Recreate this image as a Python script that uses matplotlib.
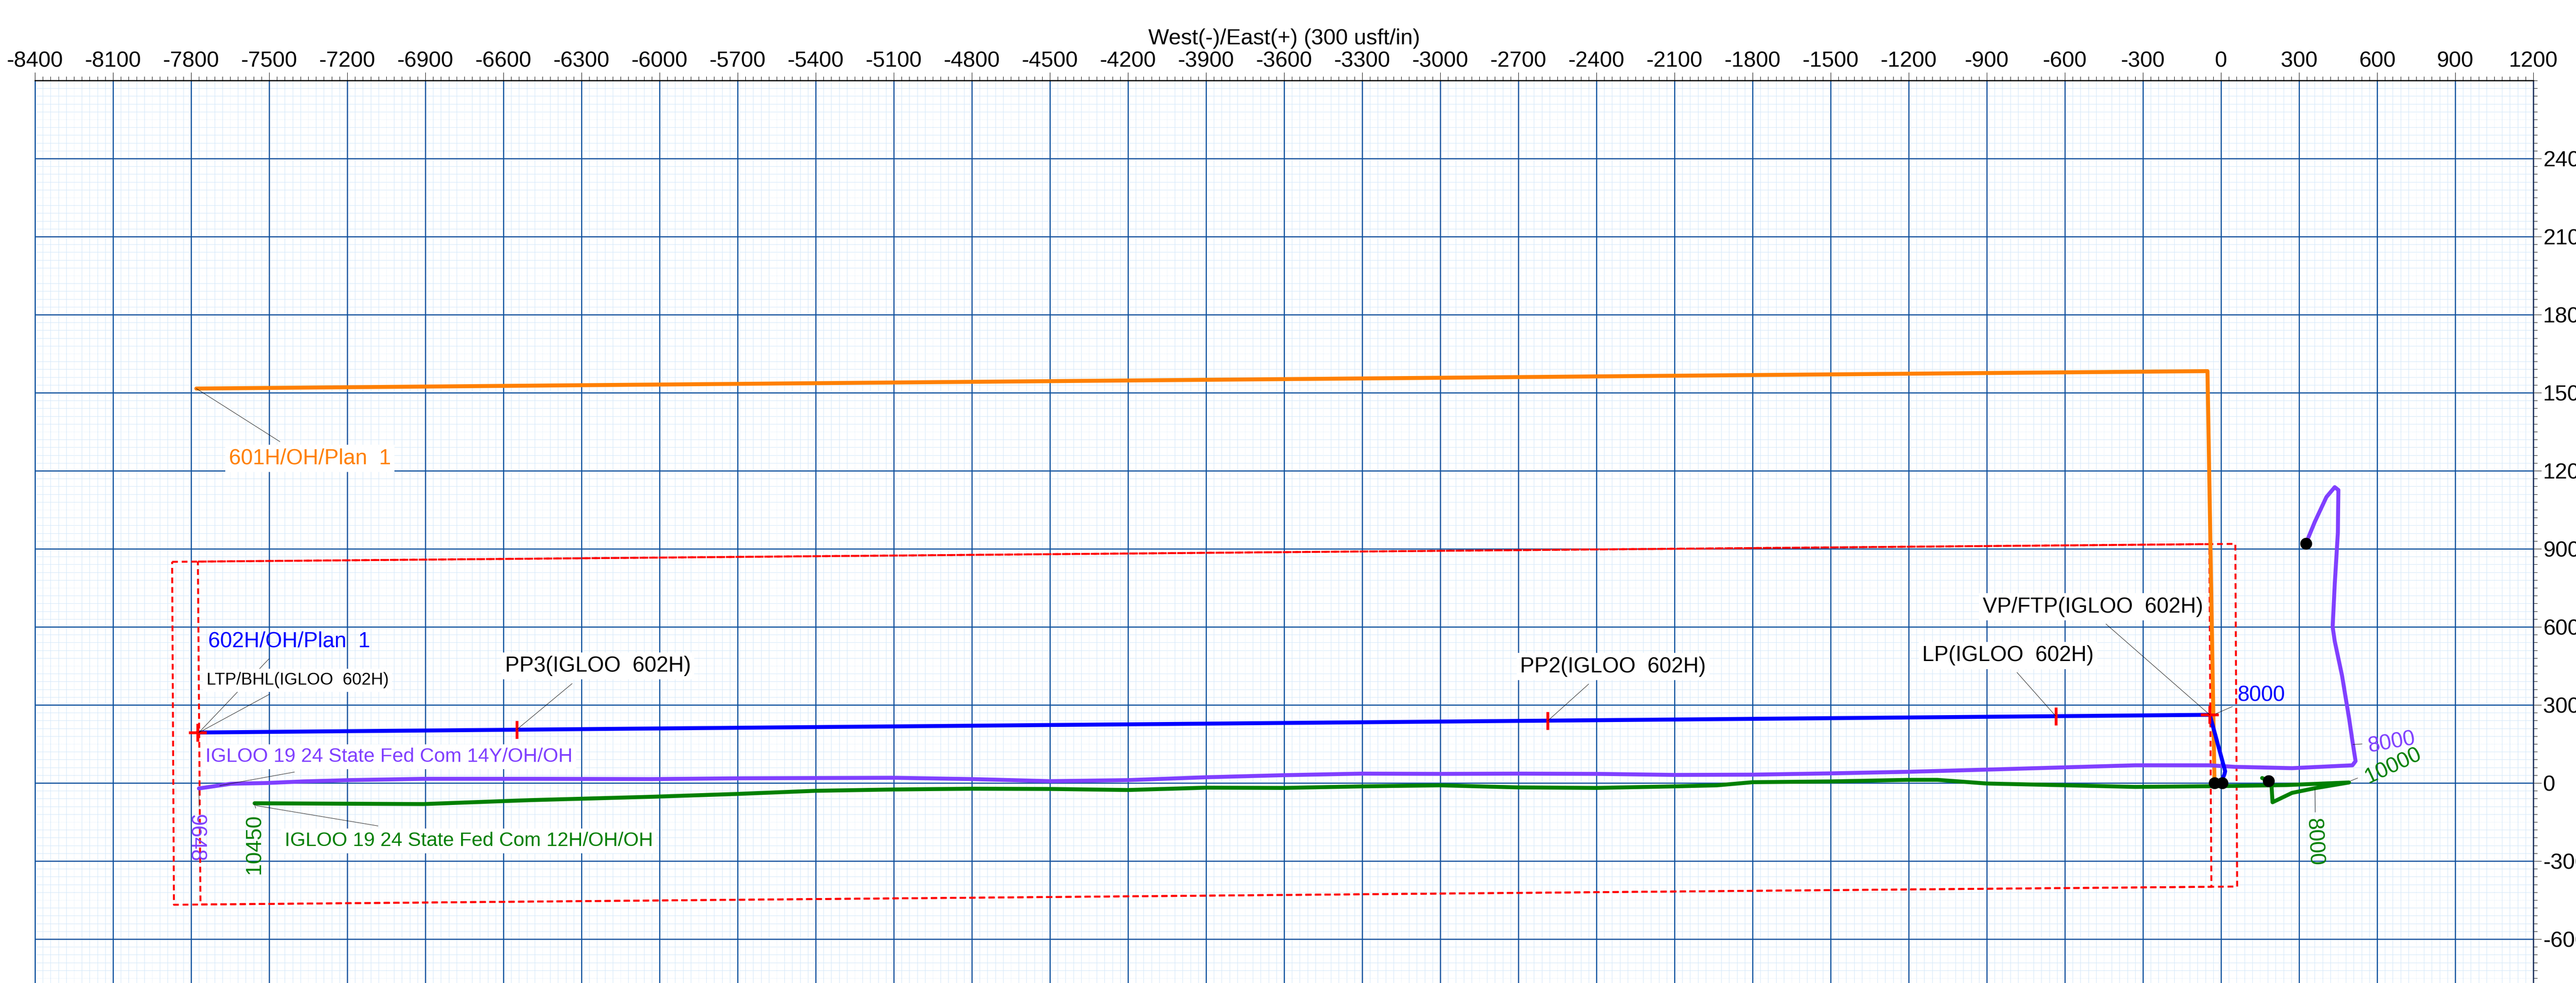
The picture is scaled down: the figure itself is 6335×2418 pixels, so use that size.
import numpy as np
import matplotlib
matplotlib.use("Agg")
import matplotlib.pyplot as plt
from matplotlib.ticker import MultipleLocator

matplotlib.rcParams.update({
    'font.family': ['Liberation Sans', 'DejaVu Sans'],
    'axes.unicode_minus': False,
})

# --- well paths (East/West, North/South in usft) ---
well_601h_ew = [-25, -52, -7780]
well_601h_ns = [0, 1583, 1516]

well_602h_ew = [0, 13, 16, -43, -7775]
well_602h_ns = [3, 33, 45, 262, 194]

well_14y_ew = [326, 361, 405, 437, 451, 449, 437, 429, 437, 465, 492, 505, 517, 505, 273, 54,
               -45, -330, -878, -1200, -1500, -1800, -2100, -2400, -2700, -3000, -3300, -3600,
               -3900, -4200, -4500, -4800, -5100, -5400, -5700, -6030, -6500, -6908, -7190,
               -7368, -7508, -7647, -7770]
well_14y_ns = [920, 1005, 1099, 1137, 1126, 962, 764, 600, 545, 413, 249, 161, 84, 68, 57, 62,
               68, 68, 52, 43, 37, 32, 31, 35, 36, 35, 36, 30,
               22, 11, 7, 15, 20, 19, 18, 15, 16, 16, 11,
               6, 0, -3, -21]

well_12h_ew = [158, 183, 194, 198, 273, 361, 492, 250, 0, -330, -720, -900, -1090, -1200,
               -1500, -1800, -1937, -2100, -2400, -2700, -3000, -3300, -3600, -3900, -4200,
               -4500, -4800, -5100, -5400, -5700, -6030, -6500, -6908, -7556]
well_12h_ns = [19, 8, -9, -74, -38, -20, 2, -8, -12, -15, -6, -2, 12, 12,
               6, 3, -9, -13, -19, -17, -9, -13, -19, -18, -27,
               -23, -22, -25, -30, -42, -53, -66, -81, -78]

# surface locations
surface_ew = [326, 183, -25, 5]
surface_ns = [920, 8, 0, 0]

# targets on 602H
target_names = ['LTP/BHL', 'PP3', 'PP2', 'LP', 'VP/FTP']
target_ew = [-7775, -6549, -2587, -635, -43]
target_ns = [194, 205, 239, 257, 262]
target_marker = ['+', '|', '|', '|', '+']

# lease / setback boxes (corners)
box_outer_ew = [-7873, 55, 62, -7866, -7873]
box_outer_ns = [850, 919, -398, -468, 850]
box_inner_ew = [-7774, -45, -37, -7764, -7774]
box_inner_ns = [851, 918, -399, -467, 851]

c_orange = '#ff8000'
c_blue = '#0000ff'
c_purple = '#8040ff'
c_green = '#008000'
grid_major = '#0f529e'
grid_minor = '#d6e8f9'

fig = plt.figure(figsize=(63.35, 24.18), dpi=100)
ax = fig.add_axes([86 / 6335, 0, (6230 - 86) / 6335, 1 - 198 / 2418])
ax.set_xlim(-8400, 1200)
ax.set_ylim(-768.75, 2700)

# graph paper grid
xs = np.arange(-8400, 1201, 30)
ys = np.arange(-750, 2701, 30)
ax.vlines(xs[xs % 150 != 0], -800, 2800, color=grid_minor, lw=0.9, zorder=0)
ax.hlines(ys[ys % 150 != 0], -8500, 1300, color=grid_minor, lw=0.9, zorder=0)
ax.vlines(xs[(xs % 150 == 0) & (xs % 300 != 0)], -800, 2800, color=grid_minor, lw=0.9,
          linestyles=':', zorder=0)
ax.hlines(ys[(ys % 150 == 0) & (ys % 300 != 0)], -8500, 1300, color=grid_minor, lw=0.9,
          linestyles=':', zorder=0)
ax.vlines(np.arange(-8400, 1201, 300), -800, 2800, color=grid_major, lw=2.0, zorder=0.5)
ax.hlines(np.arange(-600, 2701, 300), -8500, 1300, color=grid_major, lw=2.0, zorder=0.5)

# boxes
for bx, by in [(box_outer_ew, box_outer_ns), (box_inner_ew, box_inner_ns)]:
    ax.plot(bx, by, color='#ff0000', lw=3.4, dashes=(3, 2), zorder=2)

lw = 7.0
for ew, ns, col, z in [(well_601h_ew, well_601h_ns, c_orange, 3),
                       (well_12h_ew, well_12h_ns, c_green, 3),
                       (well_14y_ew, well_14y_ns, c_purple, 3),
                       (well_602h_ew, well_602h_ns, c_blue, 4)]:
    ax.plot(ew, ns, color=col, lw=lw, solid_capstyle='round', solid_joinstyle='round', zorder=z)

for tx, ty, m in zip(target_ew, target_ns, target_marker):
    ax.plot(tx, ty, marker=m, color='#ff0000', ms=31, mew=5, zorder=5)

ax.plot(surface_ew, surface_ns, 'o', color='black', ms=20, zorder=6)

# labels
box = dict(fc='white', ec='none', pad=6)
fs = 38
labels = [
    ('601H/OH/Plan  1', -7655, 1247, c_orange, fs, box, (-7780, 1516), (-7459, 1312)),
    ('602H/OH/Plan  1', -7735, 544, c_blue, fs, None, (-7770, 194), (-7501, 477)),
    ('LTP/BHL(IGLOO  602H)', -7741, 395, 'black', 30, box, (-7770, 194), (-7499, 341)),
    ('PP3(IGLOO  602H)', -6594, 450, 'black', fs, box, (-6549, 205), (-6336, 382)),
    ('PP2(IGLOO  602H)', -2693, 447, 'black', fs, box, (-2587, 239), (-2430, 380)),
    ('LP(IGLOO  602H)', -1148, 490, 'black', fs, box, (-635, 257), (-784, 425)),
    ('VP/FTP(IGLOO  602H)', -916, 677, 'black', fs, box, (-43, 262), (-442, 611)),
    ('8000', 64, 337, c_blue, fs, None, (-20, 266), (44, 294)),
    ('IGLOO 19 24 State Fed Com 14Y/OH/OH', -7745, 101, c_purple, 35, box,
     (-7690, -10), (-7403, 42)),
    ('IGLOO 19 24 State Fed Com 12H/OH/OH', -7441, -223, c_green, 35, box,
     (-7550, -87), (-7082, -165)),
]
for txt, x, y, col, size, bb, p0, p1 in labels:
    ax.plot([p0[0], p1[0]], [p0[1], p1[1]], color='black', lw=0.7, zorder=7)
    ax.text(x, y, txt, color=col, fontsize=size, ha='left', va='center', bbox=bb, zorder=8)

# measured depth labels
md_labels = [
    ('9648', -7781, -212, c_purple, -90, (-7770, -30), (-7769, -91)),
    ('10450', -7557, -236, c_green, 90, (-7556, -80), (-7552, -97)),
    ('8000', 656, 156, c_purple, 10, (507, 148), (542, 150)),
    ('10000', 662, 65, c_green, 25, (498, 8), (525, 19)),
    ('8000', 359, -228, c_green, -87, (361, -22), (362, -112)),
]
for txt, x, y, col, rot, p0, p1 in md_labels:
    ax.plot([p0[0], p1[0]], [p0[1], p1[1]], color='black', lw=0.7, zorder=7)
    ax.text(x, y, txt, color=col, fontsize=fs, rotation=rot, ha='center', va='center', zorder=8)

# axes
ax.xaxis.tick_top()
ax.xaxis.set_label_position('top')
ax.yaxis.tick_right()
ax.set_xticks(np.arange(-8400, 1201, 300))
ax.set_yticks(np.arange(-600, 2401, 300))
ax.xaxis.set_minor_locator(MultipleLocator(30))
ax.yaxis.set_minor_locator(MultipleLocator(30))
ax.tick_params(which='major', length=14.4, width=0.8, labelsize=39)
ax.tick_params(which='minor', length=7.2, width=0.8)
ax.tick_params(axis='x', pad=1.8)
ax.tick_params(axis='y', pad=3)
ax.set_xlabel('West(-)/East(+) (300 usft/in)', fontsize=39, labelpad=12)

ax.spines['top'].set_linewidth(2.2)
ax.spines['right'].set_linewidth(2.2)
ax.spines['right'].set_color('#0c2f5c')
ax.spines['left'].set_color(grid_major)
ax.spines['left'].set_linewidth(2.0)
ax.spines['bottom'].set_visible(False)

fig.savefig('out.png', dpi=100)
